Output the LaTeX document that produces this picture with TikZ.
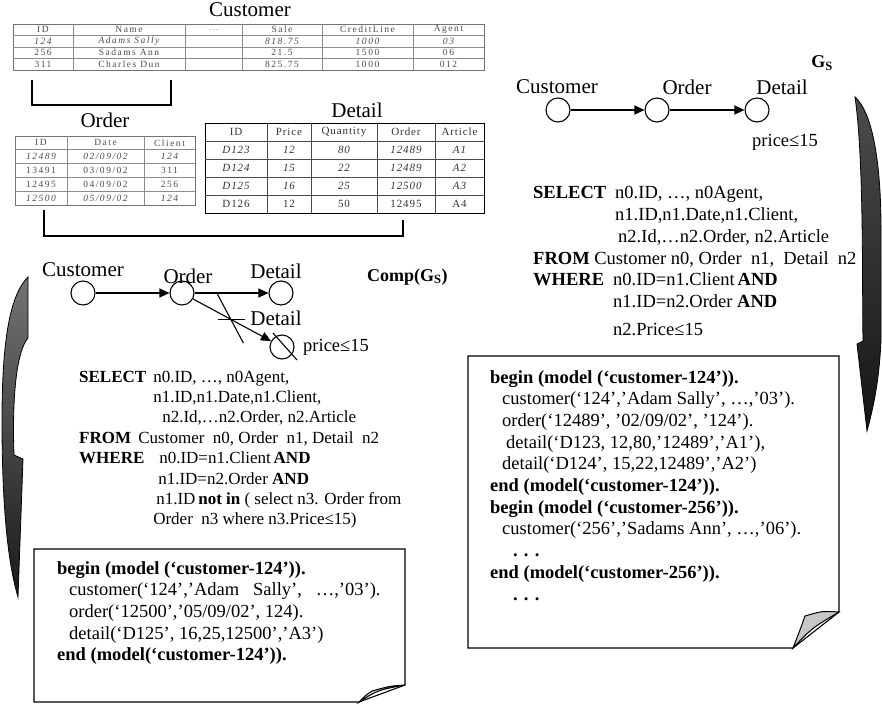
\documentclass[tikz,border=0pt]{standalone}
\usepackage{fontspec}
\setmainfont{Liberation Serif}
\usetikzlibrary{arrows.meta, positioning, calc}
\newcommand{\tabfont}{\fontsize{9.5}{10}\selectfont\addfontfeatures{LetterSpace=16}}
\newcommand{\detfont}{\fontsize{11}{12}\selectfont\addfontfeatures{LetterSpace=8}}

\begin{document}
\begin{tikzpicture}[x=1pt, y=-1pt,
    ent/.style={circle, draw, line width=1.1pt, minimum size=24pt, inner sep=0pt},
    lbl/.style={inner sep=0pt, font=\fontsize{21}{25}\selectfont},
    ttl/.style={inner sep=0pt, font=\fontsize{18}{22}\selectfont\bfseries},
    link/.style={-{Triangle[length=10pt,width=9pt]}, line width=1.1pt},
    sqlcode/.style={anchor=base west, inner sep=0pt, font=\fontsize{18.5}{21.7}\selectfont},
    tabcell/.style={inner sep=0pt, text=black!70, font=\tabfont},
    detcell/.style={inner sep=0pt, text=black!80, font=\detfont},
    tabframe/.style={draw=black!55, line width=1.1pt, inner sep=0pt, anchor=north west},
    tabrule/.style={draw=black!45, line width=0.6pt},
    notepage/.style={draw, line width=1.1pt, fill=white},
    flap/.style={draw, line width=1pt, fill=black!22},
    bendarrow/.style={draw, line width=0.8pt, top color=black!55, bottom color=black!90}
]
\useasboundingbox (0,0) rectangle (882,703);

% tables
\node[lbl] (custt) at (250,10) {Customer};
\node[tabframe, minimum width=471pt, minimum height=46pt] (ctab) at (13,24) {};
\foreach \x in {73,185,242,322,413} \draw[tabrule] (\x,24) -- (\x,70);
\foreach \y in {35.5,47,58.5} \draw[tabrule] (13,\y) -- (484,\y);
\foreach \cx/\ha/\ra/\rb/\rc [count=\i] in {43/ID/124/256/311, 129/Name/Adams Sally/Sadams Ann/Charles Dun,
    213.5/{\textcolor{black!35}{\dots}}/{}/{}/{}, 282/Sale/818.75/21.5/825.75,
    367.5/CreditLine/1000/1500/1000, 448.5/Agent/03/06/012} {
  \node[tabcell] (c\i-0) at (\cx,29.75) {\ha};
  \node[tabcell, font=\tabfont\itshape] (c\i-1) at (\cx,41.25) {\ra};
  \node[tabcell] (c\i-2) at (\cx,52.75) {\rb};
  \node[tabcell] (c\i-3) at (\cx,64.25) {\rc};
}

\node[lbl] (ordt) at (105,120) {Order};
\node[tabframe, minimum width=180pt, minimum height=69pt] (otab) at (15,136) {};
\foreach \x in {67,144} \draw[tabrule] (\x,136) -- (\x,205);
\foreach \y in {149.8,163.6,177.4,191.2} \draw[tabrule] (15,\y) -- (195,\y);
\foreach \cx/\ha/\ra/\rb/\rc/\rd [count=\i] in {41/ID/12489/13491/12495/12500,
    105.5/Date/{02/09/02}/{03/09/02}/{04/09/02}/{05/09/02}, 169.5/Client/124/311/256/124} {
  \node[tabcell] (o\i-0) at (\cx,142.9) {\ha};
  \node[tabcell, font=\tabfont\itshape] (o\i-1) at (\cx,156.7) {\ra};
  \node[tabcell] (o\i-2) at (\cx,170.5) {\rb};
  \node[tabcell] (o\i-3) at (\cx,184.3) {\rc};
  \node[tabcell, font=\tabfont\itshape] (o\i-4) at (\cx,198.1) {\rd};
}

\node[lbl] (dett) at (357,110) {Detail};
\node[tabframe, draw=black, minimum width=279pt, minimum height=90pt] (dtab) at (205,123) {};
\foreach \x in {267,311,377,435} \draw[tabrule, draw=black!70] (\x,123) -- (\x,213);
\foreach \y in {141,159,177,195} \draw[tabrule, draw=black!70] (205,\y) -- (484,\y);
\foreach \cx/\ha/\ra/\rb/\rc/\rd [count=\i] in {236/ID/D123/D124/D125/D126, 289/Price/12/15/16/12,
    344/Quantity/80/22/25/50, 406/Order/12489/12489/12500/12495, 459.5/Article/A1/A2/A3/A4} {
  \node[detcell] (d\i-0) at (\cx,132) {\ha};
  \node[detcell, font=\detfont\itshape] (d\i-1) at (\cx,150) {\ra};
  \node[detcell, font=\detfont\itshape] (d\i-2) at (\cx,168) {\rb};
  \node[detcell, font=\detfont\itshape] (d\i-3) at (\cx,186) {\rc};
  \node[detcell] (d\i-4) at (\cx,204) {\rd};
}

\coordinate (cj1) at (32,80);
\coordinate (cj2) at (171,80);
\draw[line width=1.1pt] (cj1) -- ++(0,25) -| (cj2);
\coordinate (oj) at (44,210);
\coordinate (dj) at (403,220);
\draw[line width=1.1pt] (oj) -- ++(0,26) -| (dj);

% schema graph G_S
\node[ent] (rc) at (558,110) {};
\node[ent] (ro) at (657,110) {};
\node[ent] (rd) at (757,110) {};
\node[lbl] (rcl) at (557,87) {Customer};
\node[lbl] (rol) at (687,87) {Order};
\node[lbl] (rdl) at (782,87) {Detail};
\node[ttl] (gs) at (822,63) {G\textsubscript{S}};
\node[lbl, font=\fontsize{18.5}{22}\selectfont] (rp) at (785,142) {price≤15};
\draw[link] (rc) -- (ro);
\draw[link] (ro) -- (rd);

\node[sqlcode] (rsql) at (533,199) {\begin{tabular}[t]{@{}l@{\hspace{9pt}}l@{}}
\textbf{SELECT} & n0.ID, …, n0Agent,\\
 & n1.ID,n1.Date,n1.Client,\\
 & \hspace*{3pt}n2.Id,…n2.Order, n2.Article\\
\multicolumn{2}{@{}l@{}}{\textbf{FROM} Customer n0, Order\ \ n1,\ \ Detail\ \ n2}\\
\textbf{WHERE} & \hspace*{-2pt}n0.ID=n1.Client\,\textbf{AND}\\
 & \hspace*{-2pt}n1.ID=n2.Order \textbf{AND}\\[6pt]
 & \hspace*{-2pt}n2.Price≤15
\end{tabular}};

% complement graph
\node[ent] (lc) at (83,293) {};
\node[ent] (lo) at (182,293) {};
\node[ent] (ld) at (281,293) {};
\node[ent] (lx) at (282,347) {};
\node[lbl] (lcl) at (83,270) {Customer};
\node[lbl] (lol) at (188,276) {Order};
\node[lbl] (ldl) at (276,271) {Detail};
\node[lbl] (lxl) at (276,318) {Detail};
\node[ttl, anchor=west] (comp) at (367,277) {Comp(G\textsubscript{S})};
\node[lbl, anchor=west, font=\fontsize{18.5}{22}\selectfont] (lp) at (303,347) {price≤15};
\draw[link] (lc) -- (lo);
\draw[link] (lo) -- (ld);
\draw[link] (lo) -- coordinate[pos=0.48] (cut) (lx);
\draw[line width=1.1pt] ([shift={(-12,0)}]cut) -- ([shift={(15,0)}]cut);
\draw[line width=1.1pt] ([shift={(-13,-25)}]cut) -- ([shift={(13,24)}]cut);
\draw[line width=1.1pt] ([shift={(-9,-14)}]lx.center) -- ([shift={(15,13)}]lx.center);

\node[sqlcode, font=\fontsize{17}{20.4}\selectfont] (lsql) at (79,382) {\begin{tabular}[t]{@{}l@{\hspace{7pt}}l@{}}
\textbf{SELECT} & n0.ID, …, n0Agent,\\
 & n1.ID,n1.Date,n1.Client,\\
 & \hspace*{9pt}n2.Id,…n2.Order, n2.Article\\
\multicolumn{2}{@{}l@{}}{\textbf{FROM} \hspace{3pt}Customer\ \ n0, Order\ \ n1, Detail\ \ n2}\\
\textbf{WHERE} & \hspace*{6pt}n0.ID=n1.Client\,\textbf{AND}\\
 & \hspace*{5pt}n1.ID=n2.Order \textbf{AND}\\
 & \hspace*{3pt}n1.ID\,\textbf{not in} ( select n3. Order from\\
 & Order\ \ n3 where n3.Price≤15)
\end{tabular}};

% models
\path[notepage] (468,356) -- (839,356) -- (839,612) -- (793,648) -- (468,648) -- cycle;
\path[flap] (839,612) .. controls (822,611) .. (805,616) .. controls (800,630) .. (793,648)
  .. controls (812,628) .. (839,612) -- cycle;
\node[sqlcode] (rbox) at (490,383) {\begin{tabular}[t]{@{}l@{}}
\textbf{begin (model (‘customer-124’)).}\\
\hspace*{12pt}customer(‘124’,’Adam Sally’, …,’03’).\\
\hspace*{12pt}order(‘12489’, ’02/09/02’, ’124’).\\
\hspace*{16pt}detail(‘D123, 12,80,’12489’,’A1’),\\
\hspace*{12pt}detail(‘D124’, 15,22,12489’,’A2’)\\
\textbf{end (model(‘customer-124’)).}\\
\textbf{begin (model (‘customer-256’)).}\\
\hspace*{12pt}customer(‘256’,’Sadams Ann’, …,’06’).\\
\hspace*{23pt}\textbf{. . .}\\
\textbf{end (model(‘customer-256’)).}\\
\hspace*{23pt}\textbf{. . .}
\end{tabular}};

\path[notepage] (34,549) -- (405,549) -- (405,685) -- (359,702) -- (34,702) -- cycle;
\path[flap] (405,685) .. controls (390,686) .. (372,691) .. controls (366,695) .. (359,702)
  .. controls (378,690) .. (405,685) -- cycle;
\node[sqlcode] (lbox) at (57,574) {\begin{tabular}[t]{@{}l@{}}
\textbf{begin (model (‘customer-124’)).}\\
\hspace*{12pt}customer(‘124’,’Adam\ \ \ Sally’,\ \ \ …,’03’).\\
\hspace*{12pt}order(‘12500’,’05/09/02’, 124).\\
\hspace*{12pt}detail(‘D125’, 16,25,12500’,’A3’)\\
\textbf{end (model(‘customer-124’)).}
\end{tabular}};

% curved arrows
\path[bendarrow] (28,277) -- (28,338)
  .. controls (16,352) and (12,400) .. (14,455)
  -- (23,459) -- (18,597)
  .. controls (7,560) and (2,500) .. (2,420)
  .. controls (2,340) and (10,295) .. (28,277) -- cycle;
\path[bendarrow, top color=black!70, bottom color=black!92] (855,97)
  .. controls (872,112) and (881,160) .. (881,230)
  -- (881,340) .. controls (879,385) and (872,412) .. (867,431)
  -- (857,344) -- (863,341)
  .. controls (862,280) and (864,160) .. (855,97) -- cycle;
\end{tikzpicture}
\end{document}
